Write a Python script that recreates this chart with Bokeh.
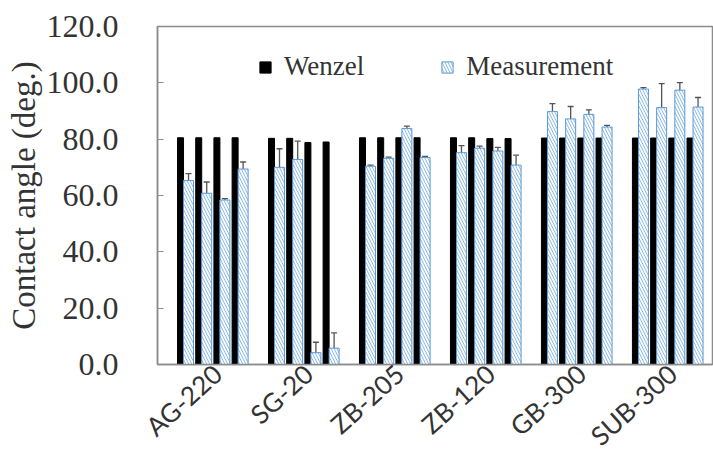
import math
from bokeh.plotting import figure
from bokeh.models import (ColumnDataSource, FixedTicker, Whisker, TeeHead,
                          Legend, LegendItem, Range1d)
from bokeh.embed import file_html
from bokeh.resources import INLINE

# ---- data -------------------------------------------------------------
groups = ["AG-220", "SG-20", "ZB-205", "ZB-120", "GB-300", "SUB-300"]
wenzel = [80.5, 80.5, 80.5, 80.5,
          80.3, 80.3, 78.8, 79.0,
          80.5, 80.5, 80.5, 80.5,
          80.5, 80.5, 80.2, 80.2,
          80.4, 80.4, 80.4, 80.4,
          80.4, 80.4, 80.4, 80.4]
measurement = [65.3, 60.8, 58.4, 69.4,
               70.0, 72.8, 4.2, 5.8,
               70.4, 73.2, 83.8, 73.5,
               75.2, 76.8, 75.8, 70.8,
               89.8, 87.2, 88.8, 84.3,
               97.8, 91.2, 97.4, 91.4]
meas_err = [2.5, 4.0, 0.5, 2.5,
            6.6, 6.5, 3.7, 5.4,
            0.4, 0.4, 0.8, 0.4,
            2.5, 0.7, 1.3, 3.5,
            2.8, 4.4, 1.6, 0.6,
            0.5, 8.5, 2.7, 3.4]
y_ticks = [0, 20, 40, 60, 80, 100, 120]

# ---- layout of slots (one blank slot before every group of four) ------
slots = [g * 5 + k + 1 for g in range(len(groups)) for k in range(4)]
x_w = [s + 0.265 for s in slots]
x_m = [s + 0.705 for s in slots]
centers = [g * 5 + 3.3 for g in range(len(groups))]

src = ColumnDataSource(dict(
    xw=x_w, xm=x_m, w=wenzel, m=measurement,
    lo=[v - e for v, e in zip(measurement, meas_err)],
    hi=[v + e for v, e in zip(measurement, meas_err)],
))

p = figure(width=713, height=466, output_backend="svg", toolbar_location=None,
           x_range=Range1d(0, 30.5), y_range=Range1d(0, 120),
           min_border_left=157, min_border_right=1, min_border_top=26,
           min_border_bottom=100)

rw = p.vbar(x="xw", top="w", width=0.33, source=src,
            fill_color="black", line_color="black")
rm = p.vbar(x="xm", top="m", width=0.55, source=src,
            fill_color="#74A9DE", line_color="#5B9BD5", line_width=1,
            hatch_pattern="\\", hatch_color="white", hatch_alpha=0.95,
            hatch_scale=6, hatch_weight=2.0)

wh = Whisker(base="xm", lower="lo", upper="hi", source=src,
             line_color="#555555", line_width=1.3,
             upper_head=TeeHead(size=6, line_color="#555555", line_width=1.3),
             lower_head=TeeHead(size=6, line_color="#555555", line_width=1.3))
p.add_layout(wh)

# ---- axes -------------------------------------------------------------
p.grid.visible = False
p.outline_line_color = "#8c8c8c"
p.outline_line_width = 1.5

p.yaxis.ticker = FixedTicker(ticks=y_ticks)
p.yaxis.major_label_overrides = {t: f"{t:.1f}" for t in y_ticks}
p.yaxis.major_tick_in = 6
p.yaxis.major_tick_out = 0
p.yaxis.minor_tick_line_color = None
p.yaxis.axis_line_color = "#8c8c8c"
p.yaxis.axis_line_width = 1.5
p.yaxis.major_tick_line_color = "#8c8c8c"
p.yaxis.major_label_text_font = "Liberation Serif"
p.yaxis.major_label_text_font_size = "32px"
p.yaxis.major_label_text_color = "#333333"
p.yaxis.major_label_standoff = 39
p.yaxis.axis_label = "Contact angle (deg.)"
p.yaxis.axis_label_text_font = "Liberation Serif"
p.yaxis.axis_label_text_font_size = "33px"
p.yaxis.axis_label_text_font_style = "normal"
p.yaxis.axis_label_text_color = "#333333"
p.yaxis.axis_label_standoff = 2

p.xaxis.ticker = FixedTicker(ticks=centers)
p.xaxis.major_label_overrides = {c: g for c, g in zip(centers, groups)}
p.xaxis.major_tick_line_color = None
p.xaxis.minor_tick_line_color = None
p.xaxis.axis_line_color = "#8c8c8c"
p.xaxis.axis_line_width = 1.5
p.xaxis.major_label_orientation = math.radians(42)
p.xaxis.major_label_text_font = "Lato"
p.xaxis.major_label_text_font_size = "26px"
p.xaxis.major_label_text_color = "#333333"
p.xaxis.major_label_standoff = -1

# ---- legend -----------------------------------------------------------
legend = Legend(items=[LegendItem(label="Wenzel", renderers=[rw]),
                       LegendItem(label="Measurement", renderers=[rm])],
                orientation="horizontal", location=(101, 282),
                border_line_alpha=0, background_fill_alpha=0,
                label_text_font="Liberation Serif", label_text_font_size="27px",
                label_text_color="#333333",
                glyph_width=14, glyph_height=14, label_standoff=12,
                spacing=76, padding=0, margin=0)
p.add_layout(legend)

open("out.html", "w").write(file_html(p, INLINE))
